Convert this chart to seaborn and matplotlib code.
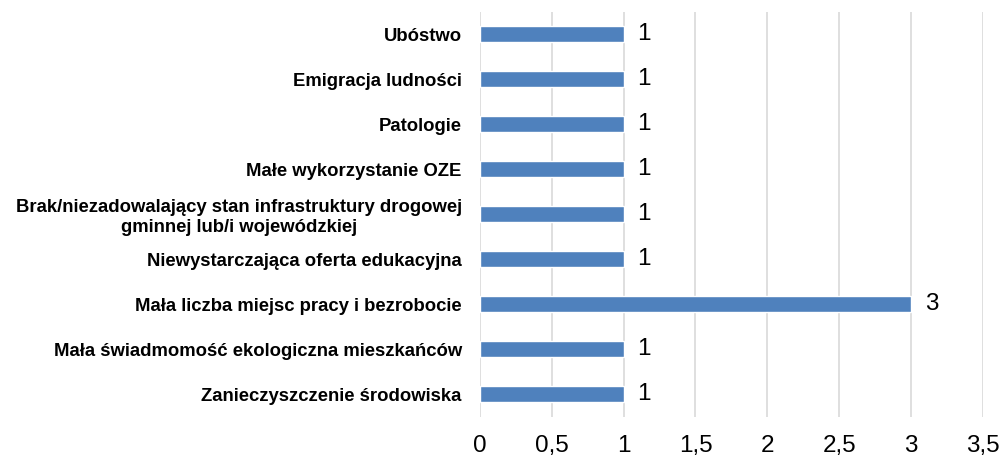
import seaborn as sns
import matplotlib.pyplot as plt
import matplotlib.ticker as mticker
import pandas as pd

categories = [
    "Ubóstwo",
    "Emigracja ludności",
    "Patologie",
    "Małe wykorzystanie OZE",
    "Brak/niezadowalający stan infrastruktury drogowej\ngminnej lub/i wojewódzkiej",
    "Niewystarczająca oferta edukacyjna",
    "Mała liczba miejsc pracy i bezrobocie",
    "Mała świadmomość ekologiczna mieszkańców",
    "Zanieczyszczenie środowiska",
]
values = [1, 1, 1, 1, 1, 1, 3, 1, 1]

df = pd.DataFrame({"kategoria": categories, "liczba": values})

sns.set_style("white")
plt.rcParams['font.family'] = ['Liberation Sans', 'DejaVu Sans']
plt.rcParams['text.color'] = 'black'
plt.rcParams['xtick.color'] = 'black'
plt.rcParams['ytick.color'] = 'black'

fig = plt.figure(figsize=(10.04, 4.61), dpi=100)
ax = fig.add_axes([0.478, 0.0965, 0.501, 0.8785])

sns.barplot(data=df, x="liczba", y="kategoria", orient="h", color="#4F81BD",
            saturation=1, width=0.35, ax=ax)

ax.set_xlim(0, 3.5)
ax.xaxis.set_major_locator(mticker.MultipleLocator(0.5))
ax.xaxis.set_major_formatter(mticker.FuncFormatter(
    lambda v, p: f"{v:g}".replace(".", ",")))
ax.grid(axis="x", color="#D9D9D9", linewidth=1.2)
ax.set_axisbelow(True)
for s in ax.spines.values():
    s.set_visible(False)
ax.set_xlabel("")
ax.set_ylabel("")
ax.tick_params(axis="x", length=0, labelsize=17.5, pad=13, labelcolor="black")
ax.tick_params(axis="y", length=0, labelsize=13.3, pad=13, labelcolor="black")
for lab in ax.get_yticklabels():
    lab.set_fontweight("bold")
    lab.set_multialignment("center")
    lab.set_linespacing(1.2)

ax.bar_label(ax.containers[0], fmt="%g", padding=10, fontsize=17.5, color="black")

fig.savefig("out.png", dpi=100)
